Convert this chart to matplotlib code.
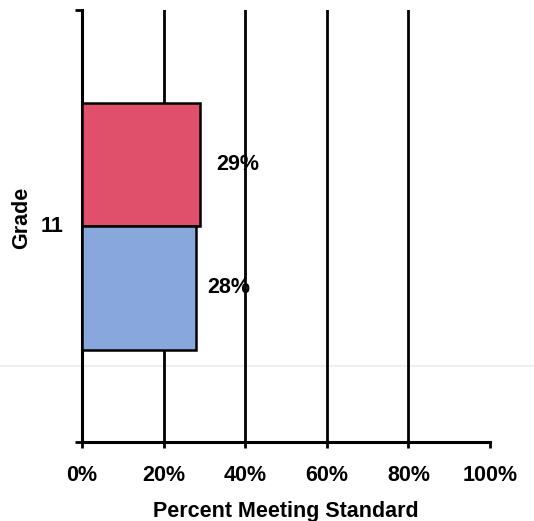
import matplotlib
matplotlib.use("Agg")
import matplotlib.pyplot as plt
from matplotlib.lines import Line2D

categories = ["11"]
series_top = [29]      # red bar
series_bottom = [28]   # blue bar
top_labels = ["29%"]
bottom_labels = ["28%"]
x_ticks = [0, 20, 40, 60, 80, 100]
x_ticklabels = ["0%", "20%", "40%", "60%", "80%", "100%"]

red = "#E0506B"
blue = "#88A7DD"

plt.rcParams['font.family'] = ['Liberation Sans', 'DejaVu Sans']
FS = 15.5

fig = plt.figure(figsize=(5.34, 5.21), dpi=100)
ax = fig.add_axes([0.1536, 0.1516, 0.764, 0.829])
ax.set_facecolor('none')

# faint scan line
fig.add_artist(Line2D([0, 1], [1 - 366 / 521, 1 - 366 / 521], transform=fig.transFigure,
                      color='#eeeeee', linewidth=1.5, zorder=0))

h = 0.572
ax.barh([0], series_top, height=h, align='edge', color=red, edgecolor='black', linewidth=1.8, zorder=3)
ax.barh([-h], series_bottom, height=h, align='edge', color=blue, edgecolor='black', linewidth=1.8, zorder=3)

ax.text(series_top[0] + 4.0, h / 2, top_labels[0], ha='left', va='center',
        fontsize=FS, fontweight='bold', zorder=4)
ax.text(series_bottom[0] + 2.6, -h / 2, bottom_labels[0], ha='left', va='center',
        fontsize=FS, fontweight='bold', zorder=4)

ax.set_xlim(0, 100)
ax.set_ylim(-1, 1)

for g in x_ticks[1:-1]:
    ax.axvline(g, color='black', linewidth=2.0, zorder=2)

ax.spines['top'].set_visible(False)
ax.spines['right'].set_visible(False)
ax.spines['left'].set_linewidth(2.2)
ax.spines['bottom'].set_linewidth(2.2)

ax.set_xticks(x_ticks)
ax.set_xticklabels(x_ticklabels, fontsize=FS, fontweight='bold')
ax.tick_params(axis='x', length=4, width=2, pad=12.5)

ax.set_yticks([-1, 1])
ax.set_yticklabels(["", ""])
ax.tick_params(axis='y', length=5, width=2)
ax.text(-0.045, 0.0, categories[0], transform=ax.get_yaxis_transform(), ha='right', va='center',
        fontsize=FS, fontweight='bold')

ax.set_xlabel("Percent Meeting Standard", fontsize=FS, fontweight='bold', labelpad=11)
ax.text(22 / 534, 1 - 218 / 521, "Grade", transform=fig.transFigure, rotation=90,
        ha='center', va='center', fontsize=FS, fontweight='bold')

fig.savefig("out.png", dpi=100)
